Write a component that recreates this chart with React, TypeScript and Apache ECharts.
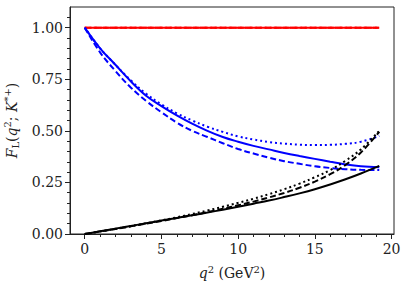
import React, { useEffect, useRef } from "react";
import * as echarts from "echarts";

const q2 = [0, 1, 2, 3, 4, 5, 6, 7, 8, 9, 10, 11, 12, 13, 14, 15, 16, 17, 18, 19.2];

const redSolid = [1, 1, 1, 1, 1, 1, 1, 1, 1, 1, 1, 1, 1, 1, 1, 1, 1, 1, 1, 1];
const redDashed = [1, 1, 1, 1, 1, 1, 1, 1, 1, 1, 1, 1, 1, 1, 1, 1, 1, 1, 1, 1];
const redDotted = [1, 1, 1, 1, 1, 1, 1, 1, 1, 1, 1, 1, 1, 1, 1, 1, 1, 1, 1, 1];

const blueSolid = [1.0, 0.9, 0.82, 0.74, 0.67, 0.62, 0.575, 0.535, 0.5, 0.47, 0.447, 0.427, 0.41, 0.393, 0.378, 0.364, 0.35, 0.337, 0.328, 0.324];
const blueDashed = [1.0, 0.88, 0.79, 0.71, 0.645, 0.59, 0.54, 0.5, 0.47, 0.44, 0.412, 0.39, 0.37, 0.353, 0.34, 0.328, 0.32, 0.314, 0.311, 0.31];
const blueDotted = [1.0, 0.9, 0.82, 0.745, 0.68, 0.628, 0.585, 0.55, 0.52, 0.495, 0.473, 0.458, 0.446, 0.438, 0.433, 0.431, 0.432, 0.437, 0.447, 0.475];

const blackSolid = [0, 0.013, 0.026, 0.039, 0.052, 0.065, 0.078, 0.091, 0.104, 0.118, 0.132, 0.147, 0.162, 0.179, 0.197, 0.217, 0.24, 0.265, 0.293, 0.33];
const blackDashed = [0, 0.012, 0.024, 0.037, 0.05, 0.063, 0.077, 0.091, 0.106, 0.122, 0.139, 0.157, 0.177, 0.199, 0.224, 0.254, 0.29, 0.335, 0.395, 0.495];
const blackDotted = [0, 0.012, 0.025, 0.038, 0.052, 0.066, 0.081, 0.097, 0.114, 0.132, 0.151, 0.171, 0.193, 0.217, 0.244, 0.275, 0.31, 0.355, 0.41, 0.5];

const xTicks = [0, 5, 10, 15, 20];
const xMinorTicks = [0, 1, 2, 3, 4, 5, 6, 7, 8, 9, 10, 11, 12, 13, 14, 15, 16, 17, 18, 19, 20];
const yTicks = [0, 0.25, 0.5, 0.75, 1.0];
const yMinorTicks = [0, 0.05, 0.1, 0.15, 0.2, 0.25, 0.3, 0.35, 0.4, 0.45, 0.5, 0.55, 0.6, 0.65, 0.7, 0.75, 0.8, 0.85, 0.9, 0.95, 1.0, 1.05];

const FONT = "DejaVu Serif";
const FS = 14;
const SS = 10;

export default function App() {
  const ref = useRef<HTMLDivElement>(null);
  useEffect(() => {
    if (!ref.current) return;
    const chart = echarts.init(ref.current, undefined, { renderer: "svg" });
    const mk = (name: string, data: number[], color: string, type: any) => ({
      name,
      type: "line",
      data: q2.map((x, i) => [x, data[i]]),
      showSymbol: false,
      smooth: 0.4,
      lineStyle: { color, width: 2, type },
      xAxisIndex: 0,
      yAxisIndex: 0,
      z: 3,
    });
    const xMin = -0.96;
    const xMax = 20.16;
    const yMin = 0;
    const yMax = 1.1;
    const rich = {
      i: { fontFamily: FONT, fontStyle: "italic", fontSize: FS, color: "#222" },
      n: { fontFamily: FONT, fontSize: FS, color: "#222" },
      sub: { fontFamily: FONT, fontSize: SS, color: "#222", verticalAlign: "bottom", padding: [8, 0, 0, 0] },
      sup: { fontFamily: FONT, fontSize: SS, color: "#222", verticalAlign: "top", padding: [0, 0, 8, 0] },
    };
    chart.setOption({
      animation: false,
      grid: {
        left: 70,
        right: 13,
        top: 7,
        bottom: 58,
        show: true,
        borderColor: "#222",
        borderWidth: 1,
        backgroundColor: "transparent",
        containLabel: false,
        outerBoundsMode: "none",
      },
      xAxis: [
        {
          type: "value",
          min: xMin,
          max: xMax,
          position: "bottom",
          splitLine: { show: false },
          axisLine: { show: true, onZero: false, lineStyle: { color: "#222", width: 1 } },
          axisTick: { show: true, length: 5, customValues: xTicks, lineStyle: { color: "#222" } },
          axisLabel: {
            customValues: xTicks,
            formatter: (v: number) => String(Math.round(v)),
            fontFamily: FONT,
            fontSize: FS,
            color: "#222",
            margin: 8,
          },
          name: "{i|q}{sup|2}{n| (GeV}{sup|2}{n|)}",
          nameLocation: "middle",
          nameGap: 30,
          nameTextStyle: { fontFamily: FONT, fontSize: FS, color: "#222", rich },
        },
        {
          type: "value",
          min: xMin,
          max: xMax,
          position: "bottom",
          splitLine: { show: false },
          axisLine: { show: false, onZero: false },
          axisTick: { show: true, length: 3, customValues: xMinorTicks, lineStyle: { color: "#222" } },
          axisLabel: { show: false },
        },
      ],
      yAxis: [
        {
          type: "value",
          min: yMin,
          max: yMax,
          position: "left",
          splitLine: { show: false },
          axisLine: { show: true, onZero: false, lineStyle: { color: "#222", width: 1 } },
          axisTick: { show: true, length: 5, customValues: yTicks, lineStyle: { color: "#222" } },
          axisLabel: {
            customValues: yTicks,
            formatter: (v: number) => v.toFixed(2),
            fontFamily: FONT,
            fontSize: FS,
            color: "#222",
            margin: 7,
          },
          name: "{i|F}{sub|L}{n|(}{i|q}{sup|2}{n|; }{i|K}{sup|*+}{n|)}",
          nameLocation: "middle",
          nameRotate: 90,
          nameGap: 46,
          nameTextStyle: { fontFamily: FONT, fontSize: FS, color: "#222", rich },
        },
        {
          type: "value",
          min: yMin,
          max: yMax,
          position: "left",
          splitLine: { show: false },
          axisLine: { show: false, onZero: false },
          axisTick: { show: true, length: 3, customValues: yMinorTicks, lineStyle: { color: "#222" } },
          axisLabel: { show: false },
        },
      ],
      series: [
        mk("red solid", redSolid, "#ff0000", "solid"),
        mk("red dashed", redDashed, "#ff0000", [6, 3]),
        mk("red dotted", redDotted, "#ff0000", [2, 3]),
        mk("blue solid", blueSolid, "#0000ff", "solid"),
        mk("blue dashed", blueDashed, "#0000ff", [6, 3]),
        mk("blue dotted", blueDotted, "#0000ff", [2, 3]),
        mk("black solid", blackSolid, "#000000", "solid"),
        mk("black dashed", blackDashed, "#000000", [6, 3]),
        mk("black dotted", blackDotted, "#000000", [2, 3]),
      ],
    });
    return () => chart.dispose();
  }, []);
  return (
    <div
      ref={ref}
      style={{ position: "fixed", left: 0, top: 0, width: 407, height: 292, background: "#fff" }}
    />
  );
}
